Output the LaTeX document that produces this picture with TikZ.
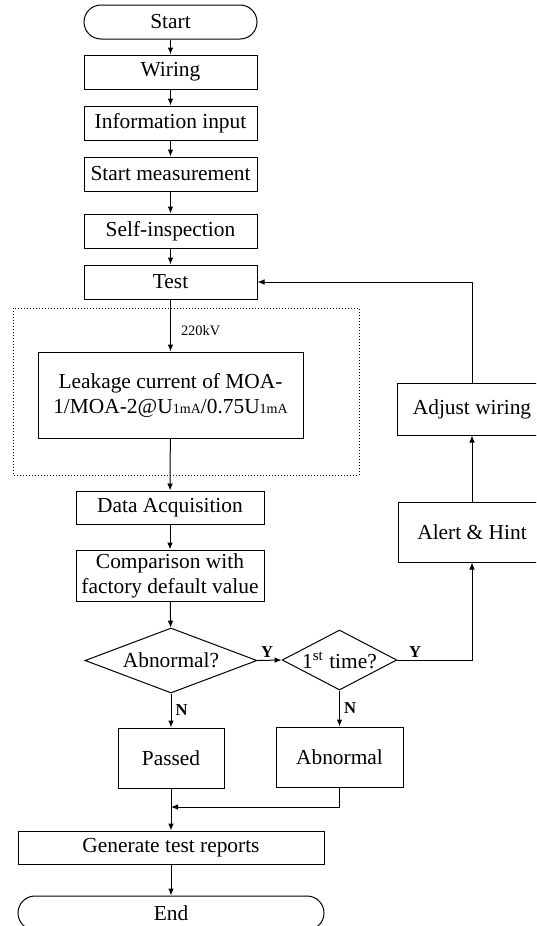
\documentclass[tikz,border=0pt]{standalone}
\usepackage{fontspec}
\setmainfont{Liberation Serif}
\usetikzlibrary{shapes.geometric,arrows.meta}
\newcommand{\onema}{{\fontsize{7pt}{8pt}\selectfont 1mA}}
\tikzset{
  box/.style = {draw, rectangle, minimum width = 86.5pt, minimum height = 17pt, inner sep = 1pt, align = center},
  term/.style = {box, rounded corners = 8.5pt},
  decide/.style = {draw, diamond, inner sep = 0pt, aspect = 2.4},
  yn/.style = {font = \fontsize{8.3pt}{9pt}\selectfont\bfseries, inner sep = 1pt},
  kv/.style = {font = \fontsize{7.2pt}{8pt}\selectfont, inner sep = 1pt}
}
\begin{document}
\begin{tikzpicture}[x = 0.5pt, y = -0.5pt, line width = 0.5pt,
  >={Latex[length = 3.5pt, width = 2.8pt]},
  font = \fontsize{10.7pt}{12.5pt}\selectfont]
\useasboundingbox (0,0) rectangle (536,926);
\clip (0,0) rectangle (536,926);
% main column
\node[term] at (170.5,22) (start) {Start};
\node[box] at (170.5,72) (wiring) {Wiring};
\node[box] at (170.5,123) (info) {Information input};
\node[box] at (170.5,174) (meas) {Start measurement};
\node[box] at (170.5,231) (check) {Self-inspection};
\node[box] at (170.5,282) (test) {Test};
\draw[densely dotted] (13,308) rectangle (359,475);
\node[box, minimum width = 132.5pt, minimum height = 43pt] at (170.5,395) (leak)
  {Leakage current of MOA-\\1/MOA-2@U\onema/0.75U\onema};
\node[box, minimum width = 94pt, minimum height = 16.5pt] at (170,507.5) (acq) {Data Acquisition};
\node[box, minimum width = 94pt, minimum height = 25.5pt] at (170,575.5) (cmp) {Comparison with\\factory default value};
\node[decide, minimum width = 86pt, minimum height = 32.5pt] at (171,660.5) (abn) {Abnormal?};
\node[decide, minimum width = 56.5pt, minimum height = 30pt] at (339.5,660) (first) {1\textsuperscript{st} time?};
% right branch
\node[box, minimum width = 74pt, minimum height = 30pt] at (472,532) (alert) {Alert \& Hint};
\node[box, minimum width = 75pt, minimum height = 26pt] at (472,409) (adjust) {Adjust wiring};
% results
\node[box, minimum width = 53pt, minimum height = 30pt] at (171,758) (passed) {Passed};
\node[box, minimum width = 63.5pt, minimum height = 30pt] at (339.5,757) (abnbox) {Abnormal};
\node[box, minimum width = 153pt, minimum height = 16.5pt] at (171,847.5) (report) {Generate test reports};
\node[term, minimum width = 153pt] at (171,913) (end) {End};
\coordinate (join) at (171,807);
% connectors
\draw[->] (start) -- (wiring);
\draw[->] (wiring) -- (info);
\draw[->] (info) -- (meas);
\draw[->] (meas) -- (check);
\draw[->] (check) -- (test);
\draw[->] (test) -- node[kv, pos = 0.6, anchor = west, xshift = 4pt] {220kV} (leak);
\draw[->] (leak) -- (acq);
\draw[->] (acq) -- (cmp);
\draw[->] (cmp) -- (abn);
\draw[->] (abn.east) -- node[yn, above, pos = 0.4] {Y} (first.west);
\draw[->] (first.east) -| node[yn, above, pos = 0.12] {Y} (alert.south);
\draw[->] (alert) -- (adjust);
\draw[->] (adjust.north) |- (test.east);
\draw[->] (abn.south) -- node[yn, right, xshift = 1pt] {N} (passed.north);
\draw[->] (first.south) -- node[yn, right, xshift = 1pt] {N} (abnbox.north);
\draw[->] (abnbox.south) |- (join);
\draw[->] (passed) -- (report);
\draw[->] (report) -- (end);
\end{tikzpicture}
\end{document}
